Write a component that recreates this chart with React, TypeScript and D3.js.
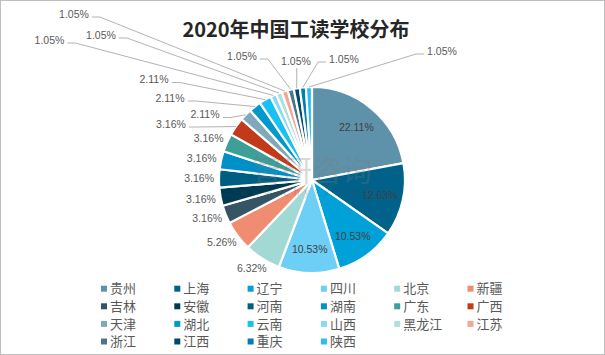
import React from "react";
import * as d3 from "d3";

const categories = ["贵州","上海","辽宁","四川","北京","新疆","吉林","安徽","河南","湖南","广东","广西","天津","湖北","云南","山西","黑龙江","江苏","浙江","江西","重庆","陕西"];
const values = [22.11,12.63,10.53,10.53,6.32,5.26,3.16,3.16,3.16,3.16,3.16,3.16,2.11,2.11,2.11,1.05,1.05,1.05,1.05,1.05,1.05,1.05];
const colors = ["#5e92aa","#00618a","#00a1d9","#6dcff6","#a2d9d5","#f08c72","#365564","#003a52","#005e83","#0090c9","#3e9e98","#c13a19","#7fa8ba","#0099cd","#19c0f2","#8ad8f4","#b1dfdc","#f3a894","#4a7689","#004a69","#007fae","#2bbdf0"];
const title = "2020年中国工读学校分布";

// label layout for callout labels (offset of label centre from pie centre)
const callouts: Record<string, [number, number]> = {
  "广西": [-141, -56], "天津": [-107, -65.5], "湖北": [-142, -82], "云南": [-158, -100.5],
  "山西": [-262.5, -140], "黑龙江": [-211, -145], "江苏": [-238, -166],
  "浙江": [-70, -124], "江西": [-16, -119], "重庆": [32, -121], "陕西": [130, -129],
};
const insideCount = 4;

const W = 605, H = 355;
const cx = 312, cy = 180, R = 93;
const FS = 10.5;

function textW(s: string) {
  let w = 0;
  for (const ch of s) w += ch === "." ? 0.278 : ch === "%" ? 0.889 : 0.556;
  return w * FS;
}

export default function App() {
  const data = categories.map((c, i) => ({ c, v: values[i], col: colors[i] }));
  const pie = d3.pie<any>().sort(null).value((d) => d.v).startAngle(0).endAngle(2 * Math.PI);
  const arcs = pie(data);
  const arc = d3.arc<any>().innerRadius(0).outerRadius(R);
  const fmt = (v: number) => v.toFixed(2) + "%";

  const labels = arcs.map((a, i) => {
    const mid = (a.startAngle + a.endAngle) / 2;
    const s = Math.sin(mid), c = -Math.cos(mid);
    const txt = fmt(a.data.v);
    const w = textW(txt);
    if (i < insideCount) {
      const r = R * 0.745;
      return { txt, x: cx + r * s, y: cy + r * c, inside: true, line: null as any };
    }
    const co = callouts[a.data.c];
    if (!co) {
      const g = R + 5;
      return { txt, x: cx + g * s + (w / 2) * s, y: cy + g * c + 6 * c, inside: false, line: null };
    }
    const lx = cx + co[0], ly = cy + co[1];
    const px = cx + R * s, py = cy + R * c;
    let pts: [number, number][];
    const x0 = lx - w / 2, x1 = lx + w / 2;
    if (px >= x0 && px <= x1) {
      pts = [[px, ly + 7], [px, py]];
    } else if (px > x1) {
      pts = [[x1 + 3, ly + 3], [x1 + 11, ly + 3], [px, py]];
    } else {
      pts = [[x0 - 3, ly + 3], [x0 - 11, ly + 3], [px, py]];
    }
    return { txt, x: lx, y: ly, inside: false, line: pts };
  });

  const legendX0 = 101, legendDX = 73.3, legendY0 = 288.7, legendDY = 17.6;

  return (
    <svg width={W} height={H} style={{ position: "absolute", left: 0, top: 0, background: "#fff" }}
      fontFamily="'Liberation Sans', Arial, sans-serif">
      <rect x={0.5} y={0.5} width={W - 1} height={H - 1} fill="#fff" stroke="#bfbfbf" strokeWidth={1} />
      <text x={296} y={37} textAnchor="middle" fontFamily="'Noto Sans CJK SC', sans-serif" fontWeight="bold"
        fontSize={20} fill="#262626">{title}</text>
      <g>
        {arcs.map((a, i) => (
          <path key={i} d={arc(a) as string} transform={`translate(${cx},${cy})`} fill={a.data.col}
            stroke="#fff" strokeWidth={2.2} strokeLinejoin="round" />
        ))}
      </g>
      <g opacity={0.28} pointerEvents="none">
        <text x={312} y={181} textAnchor="middle" fontFamily="'Noto Sans CJK SC', sans-serif" fontSize={30}
          fill="#7a7a7a">智研咨询</text>
        <text x={308} y={196} textAnchor="middle" fontSize={10} letterSpacing={5} fill="#555">www.chyxx.com</text>
      </g>
      <g>
        {labels.map((l, i) => (
          <g key={i}>
            {l.line && (
              <polyline points={l.line.map((p: number[]) => p.join(",")).join(" ")} fill="none"
                stroke="#b3b3b3" strokeWidth={1} />
            )}
            <text x={l.x} y={l.y} dy="0.36em" textAnchor="middle" fontSize={FS}
              fill={l.inside ? "#404040" : "#595959"}>{l.txt}</text>
          </g>
        ))}
      </g>
      <g fontFamily="'Noto Sans CJK SC', sans-serif" fontSize={13} fill="#595959">
        {categories.map((c, i) => {
          const col = i % 6, row = Math.floor(i / 6);
          const x = legendX0 + col * legendDX, y = legendY0 + row * legendDY;
          return (
            <g key={c}>
              <rect x={x} y={y - 3} width={6} height={6} fill={colors[i]} />
              <text x={x + 9} y={y} dy="0.36em">{c}</text>
            </g>
          );
        })}
      </g>
    </svg>
  );
}
